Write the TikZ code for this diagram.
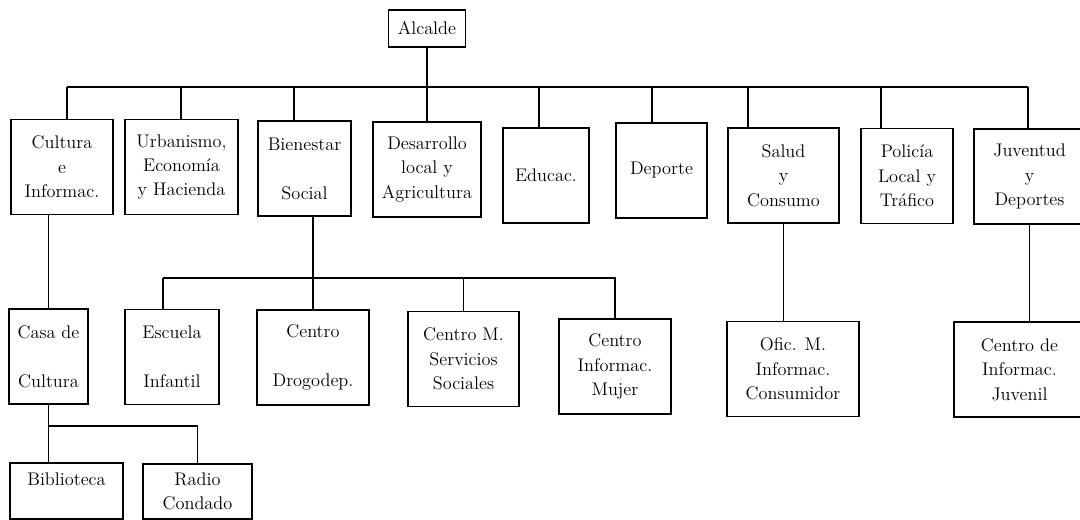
\documentclass[tikz,border=0pt]{standalone}
\begin{document}
\begin{tikzpicture}[x=0.025cm, y=-0.025cm,
    box/.style={draw, line width=1.3pt, align=center, inner sep=1pt,
      minimum height=2.375cm, font=\fontsize{13}{17.4}\selectfont},
    link/.style={line width=0.9pt}]
      \useasboundingbox (0,0) rectangle (1080,520);
      \clip (0,0) rectangle (1080,520);
      \draw
        (427,28.5) node[box, minimum width=1.925cm, minimum height=0.925cm] (alcalde){Alcalde}
        (62,167) node[box, minimum width=2.55cm] (cultura){Cultura\\e\\Informac.}
        (181.5,167) node[box, minimum width=2.825cm] (urbanismo){Urbanismo,\\Economía\\y Hacienda}
        (304.5,168.5) node[box, minimum width=2.325cm] (bienestar){Bienestar\\ \mbox{}\\Social}
        (427,169.5) node[box, minimum width=2.7cm] (desarrollo){Desarrollo\\local y\\Agricultura}
        (546,175.5) node[box, minimum width=2.15cm] (educac){Educac.}
        (661.5,170.5) node[box, minimum width=2.275cm] (deporte){Deporte}
        (783.5,175.5) node[box, minimum width=2.775cm] (salud){Salud\\y\\Consumo}
        (907,176) node[box, minimum width=2.3cm] (policia){Policía\\Local y\\Tráfico}
        (1029.5,176.5) node[box, minimum width=2.775cm] (juventud){Juventud\\y\\Deportes}
        (48.5,356.5) node[box, minimum width=1.975cm] (casa){Casa de\\ \mbox{}\\Cultura}
        (172,357) node[box, minimum width=2.35cm] (escuela){Escuela\\ \mbox{}\\Infantil}
        (313,357.5) node[box, minimum width=2.8cm] (drogodep){Centro\\ \mbox{}\\Drogodep.}
        (463.5,359) node[box, minimum width=2.775cm] (servicios){Centro M.\\Servicios\\Sociales}
        (615,366.5) node[box, minimum width=2.8cm] (mujer){Centro\\Informac.\\Mujer}
        (793,369) node[box, minimum width=3.3cm] (consumidor){Ofic. M.\\Informac.\\Consumidor}
        (1019.5,369.5) node[box, minimum width=3.275cm] (juvenil){Centro de\\Informac.\\Juvenil}
        (66.5,491) node[box, minimum width=2.825cm, minimum height=1.4cm] (biblioteca){Biblioteca\\ \mbox{}}
        (197.5,491.5) node[box, minimum width=2.725cm, minimum height=1.375cm] (radio){Radio\\Condado};
      \coordinate (b1) at (67,87);
      \coordinate (b2) at (181,87);
      \coordinate (b3) at (294,87);
      \coordinate (b4) at (539,87);
      \coordinate (b5) at (652,87);
      \coordinate (b6) at (748,87);
      \coordinate (b7) at (881,87);
      \coordinate (b8) at (1028,87);
      \coordinate (s1) at (163,278);
      \coordinate (s2) at (48.5,426);
      \begin{scope}[link]
        \draw (alcalde) to (desarrollo);
        \draw (b1) to (b8);
        \draw (b1) to (b1 |- cultura.north);
        \draw (b2) to (b2 |- urbanismo.north);
        \draw (b3) to (b3 |- bienestar.north);
        \draw (b4) to (b4 |- educac.north);
        \draw (b5) to (b5 |- deporte.north);
        \draw (b6) to (b6 |- salud.north);
        \draw (b7) to (b7 |- policia.north);
        \draw (b8) to (b8 |- juventud.north);
        \draw (casa.north |- cultura.south) to (casa.north);
        \draw (drogodep.north |- bienestar.south) to (drogodep.north);
        \draw (s1) -| (mujer.north);
        \draw (s1) to (s1 |- escuela.north);
        \draw (servicios.north |- s1) to (servicios.north);
        \draw (salud.south) to (salud.south |- consumidor.north);
        \draw (juventud.south) to (juventud.south |- juvenil.north);
        \draw (casa.south) to (casa.south |- biblioteca.north);
        \draw (s2) -| (radio.north);
      \end{scope}
    \end{tikzpicture}
\end{document}
